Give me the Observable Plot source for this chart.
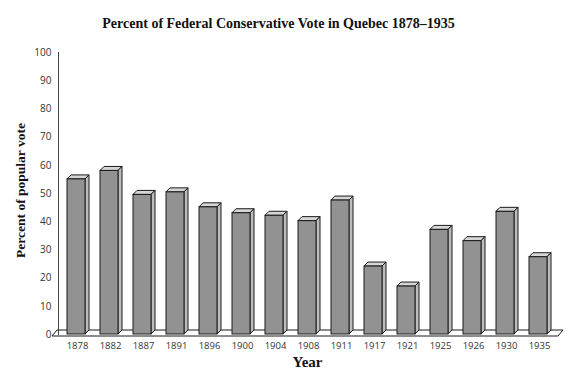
<!DOCTYPE html>
<html>
<head>
<meta charset="utf-8">
<script src="https://cdn.jsdelivr.net/npm/d3@7"></script>
<script src="https://cdn.jsdelivr.net/npm/@observablehq/plot@0.6"></script>
<style>
  body { margin: 0; background: #fff; }
  #title { width: 581px; height: 40px; box-sizing: border-box; padding-top: 14px; padding-right: 24px;
    text-align: center; font: bold 14px "Liberation Serif", serif; line-height: 20px; color: #111; }
</style>
</head>
<body>
<div id="title">Percent of Federal Conservative Vote in Quebec 1878–1935</div>
<div id="chart"></div>
<script>
const years = ["1878","1882","1887","1891","1896","1900","1904","1908","1911","1917","1921","1925","1926","1930","1935"];
const votes = [55, 58, 49.5, 50.4, 45.1, 43, 42.1, 40.2, 47.5, 24.1, 17, 37.1, 33.1, 43.5, 27.4];
const yTicks = [0, 10, 20, 30, 40, 50, 60, 70, 80, 90, 100];

const data = years.map((y, i) => ({year: y, vote: votes[i]}));
const D = 4; // 3D depth in px

function faces(index, scales, values, dimensions) {
  const svg = d3.create("svg:g");
  const x = scales.x, y = scales.y, w = x.bandwidth();
  const yb = y(0);
  // floor
  const fl = dimensions.marginLeft - 6, fr = dimensions.width - dimensions.marginRight + 2;
  svg.append("path")
    .attr("d", `M${fl},${yb + 2}L${fl + D + 1},${yb - D}L${fr + D + 1},${yb - D}L${fr},${yb + 2}Z`)
    .attr("fill", "#fff").attr("stroke", "#1a1a1a").attr("stroke-width", 1);
  for (const d of data) {
    const x0 = x(d.year), y0 = y(d.vote);
    svg.append("path")
      .attr("d", `M${x0},${y0}L${x0 + D},${y0 - D}L${x0 + w + D},${y0 - D}L${x0 + w},${y0}Z`)
      .attr("fill", "#d6d6d6").attr("stroke", "#1a1a1a").attr("stroke-width", 1).attr("stroke-linejoin", "round");
    svg.append("path")
      .attr("d", `M${x0 + w},${y0}L${x0 + w + D},${y0 - D}L${x0 + w + D},${yb - D}L${x0 + w},${yb}Z`)
      .attr("fill", "#bdbdbd").attr("stroke", "#1a1a1a").attr("stroke-width", 1).attr("stroke-linejoin", "round");
  }
  return svg.node();
}

const chart = Plot.plot({
  width: 581,
  height: 337,
  marginLeft: 58,
  marginRight: 25,
  marginTop: 12,
  marginBottom: 43,
  style: {background: "#fff", color: "#333"},
  x: {domain: years, paddingInner: 0.467, paddingOuter: 0.113, label: null},
  y: {domain: [0, 100], ticks: yTicks, label: null},
  marks: [
    Plot.barY(data, {x: "year", y: "vote", fill: "none", render: faces}),
    // front face
    Plot.barY(data, {x: "year", y: "vote", fill: "#929292", stroke: "#1a1a1a", strokeWidth: 1}),
    Plot.frame({anchor: "left", stroke: "#444"}),
    Plot.axisY({ticks: yTicks, tickSize: 0, tickPadding: 7, fontSize: 10, fontFamily: "Open Sans", label: null}),
    Plot.axisX({tickSize: 0, tickPadding: 8, fontSize: 9.5, fontFamily: "Open Sans", label: null, dx: 1}),
    Plot.text(["Percent of popular vote"], {frameAnchor: "left", dx: -38, dy: -3, rotate: -90, textAnchor: "middle", fontSize: 13.5, fontWeight: "bold", fontFamily: "Liberation Serif", fill: "#111"}),
    Plot.text(["Year"], {frameAnchor: "bottom", dy: 32, fontSize: 15, fontWeight: "bold", fontFamily: "Liberation Serif", fill: "#111"})
  ]
});
document.getElementById("chart").appendChild(chart);
</script>
</body>
</html>
